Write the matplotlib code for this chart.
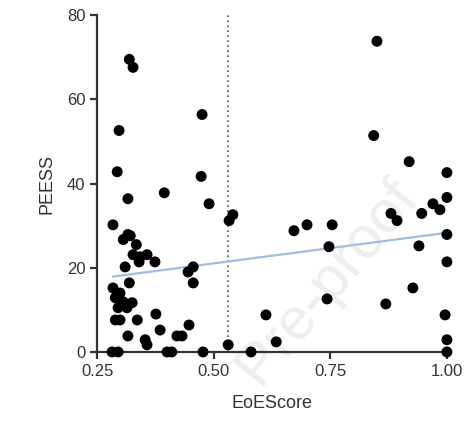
import numpy as np
from matplotlib import pyplot as plt

plt.rcParams['font.family'] = ['Liberation Sans', 'DejaVu Sans']

# EoE score vs PEESS
eoe = [0.319, 0.327, 0.297, 0.475, 0.293, 0.473, 0.850, 0.843, 0.919, 1.000,
       0.316, 0.394, 0.490, 0.533, 0.541, 0.284, 0.306, 0.321, 0.334, 0.327,
       0.342, 0.357, 0.374, 0.340, 0.310, 0.456, 0.445, 0.456, 0.319, 0.284,
       0.289, 0.299, 0.306, 0.314, 0.325, 0.295, 0.289, 0.299, 0.336, 0.376,
       0.385, 0.316, 0.353, 0.357, 0.421, 0.432, 0.447, 0.531, 0.282, 0.295,
       0.400, 0.410, 0.477, 0.580, 0.672, 0.700, 0.754, 0.747, 0.743, 0.612,
       0.634, 0.880, 0.893, 0.946, 0.970, 0.985, 1.000, 0.940, 1.000, 1.000,
       0.927, 0.869, 0.996, 1.000, 1.000, 0.316]
peess = [69.5, 67.6, 52.6, 56.4, 42.8, 41.7, 73.8, 51.4, 45.2, 42.6,
         36.4, 37.8, 35.2, 31.2, 32.6, 30.2, 26.7, 27.6, 25.5, 23.1,
         22.6, 23.1, 21.4, 21.4, 20.2, 20.2, 19.0, 16.4, 16.4, 15.2,
         12.9, 14.0, 11.9, 10.5, 11.7, 10.5, 7.6, 7.6, 7.6, 9.0,
         5.2, 3.8, 2.9, 1.7, 3.8, 3.8, 6.4, 1.7, 0.0, 0.0,
         0.0, 0.0, 0.0, 0.0, 28.8, 30.2, 30.2, 25.0, 12.6, 8.8,
         2.4, 32.9, 31.2, 32.9, 35.2, 33.8, 36.7, 25.2, 27.9, 21.4,
         15.2, 11.4, 8.8, 2.9, 0.0, 27.9]

# regression line end points
fit_x = [0.284, 1.0]
fit_y = [17.9, 28.3]

cutoff = 0.53

fig = plt.figure(figsize=(4.67, 4.21), dpi=100)
ax = fig.add_axes([0.208, 0.164, 0.749, 0.800])
ax.set_zorder(1)

# watermark (behind the axes)
fig.text(0.70, 0.33, 'Pre-proof', rotation=50, fontsize=43, color='#eeeeee',
         ha='center', va='center', zorder=0)

ax.axvline(cutoff, color='#555555', ls=(0, (1, 2)), lw=1.2, zorder=1)
ax.plot(fit_x, fit_y, color='#a3bce3', lw=1.6, zorder=2)
ax.scatter(eoe, peess, s=62, color='black', zorder=3, clip_on=False,
           edgecolors='none')

ax.set_xlim(0.25, 1.0)
ax.set_ylim(0, 80)
ax.set_xticks([0.25, 0.50, 0.75, 1.00])
ax.set_xticklabels(['0.25', '0.50', '0.75', '1.00'])
ax.set_yticks([0, 20, 40, 60, 80])

ax.patch.set_alpha(0)
for s in ['top', 'right']:
    ax.spines[s].set_visible(False)
for s in ['left', 'bottom']:
    ax.spines[s].set_linewidth(1.6)
    ax.spines[s].set_color('#333333')
ax.tick_params(width=1.6, length=5, labelsize=12, color='#333333',
               labelcolor='#333333')

ax.set_xlabel('EoEScore', fontsize=13, color='#333333', labelpad=12)
ax.set_ylabel('PEESS', fontsize=13, color='#333333', labelpad=8)

fig.savefig('out.png', dpi=100)
